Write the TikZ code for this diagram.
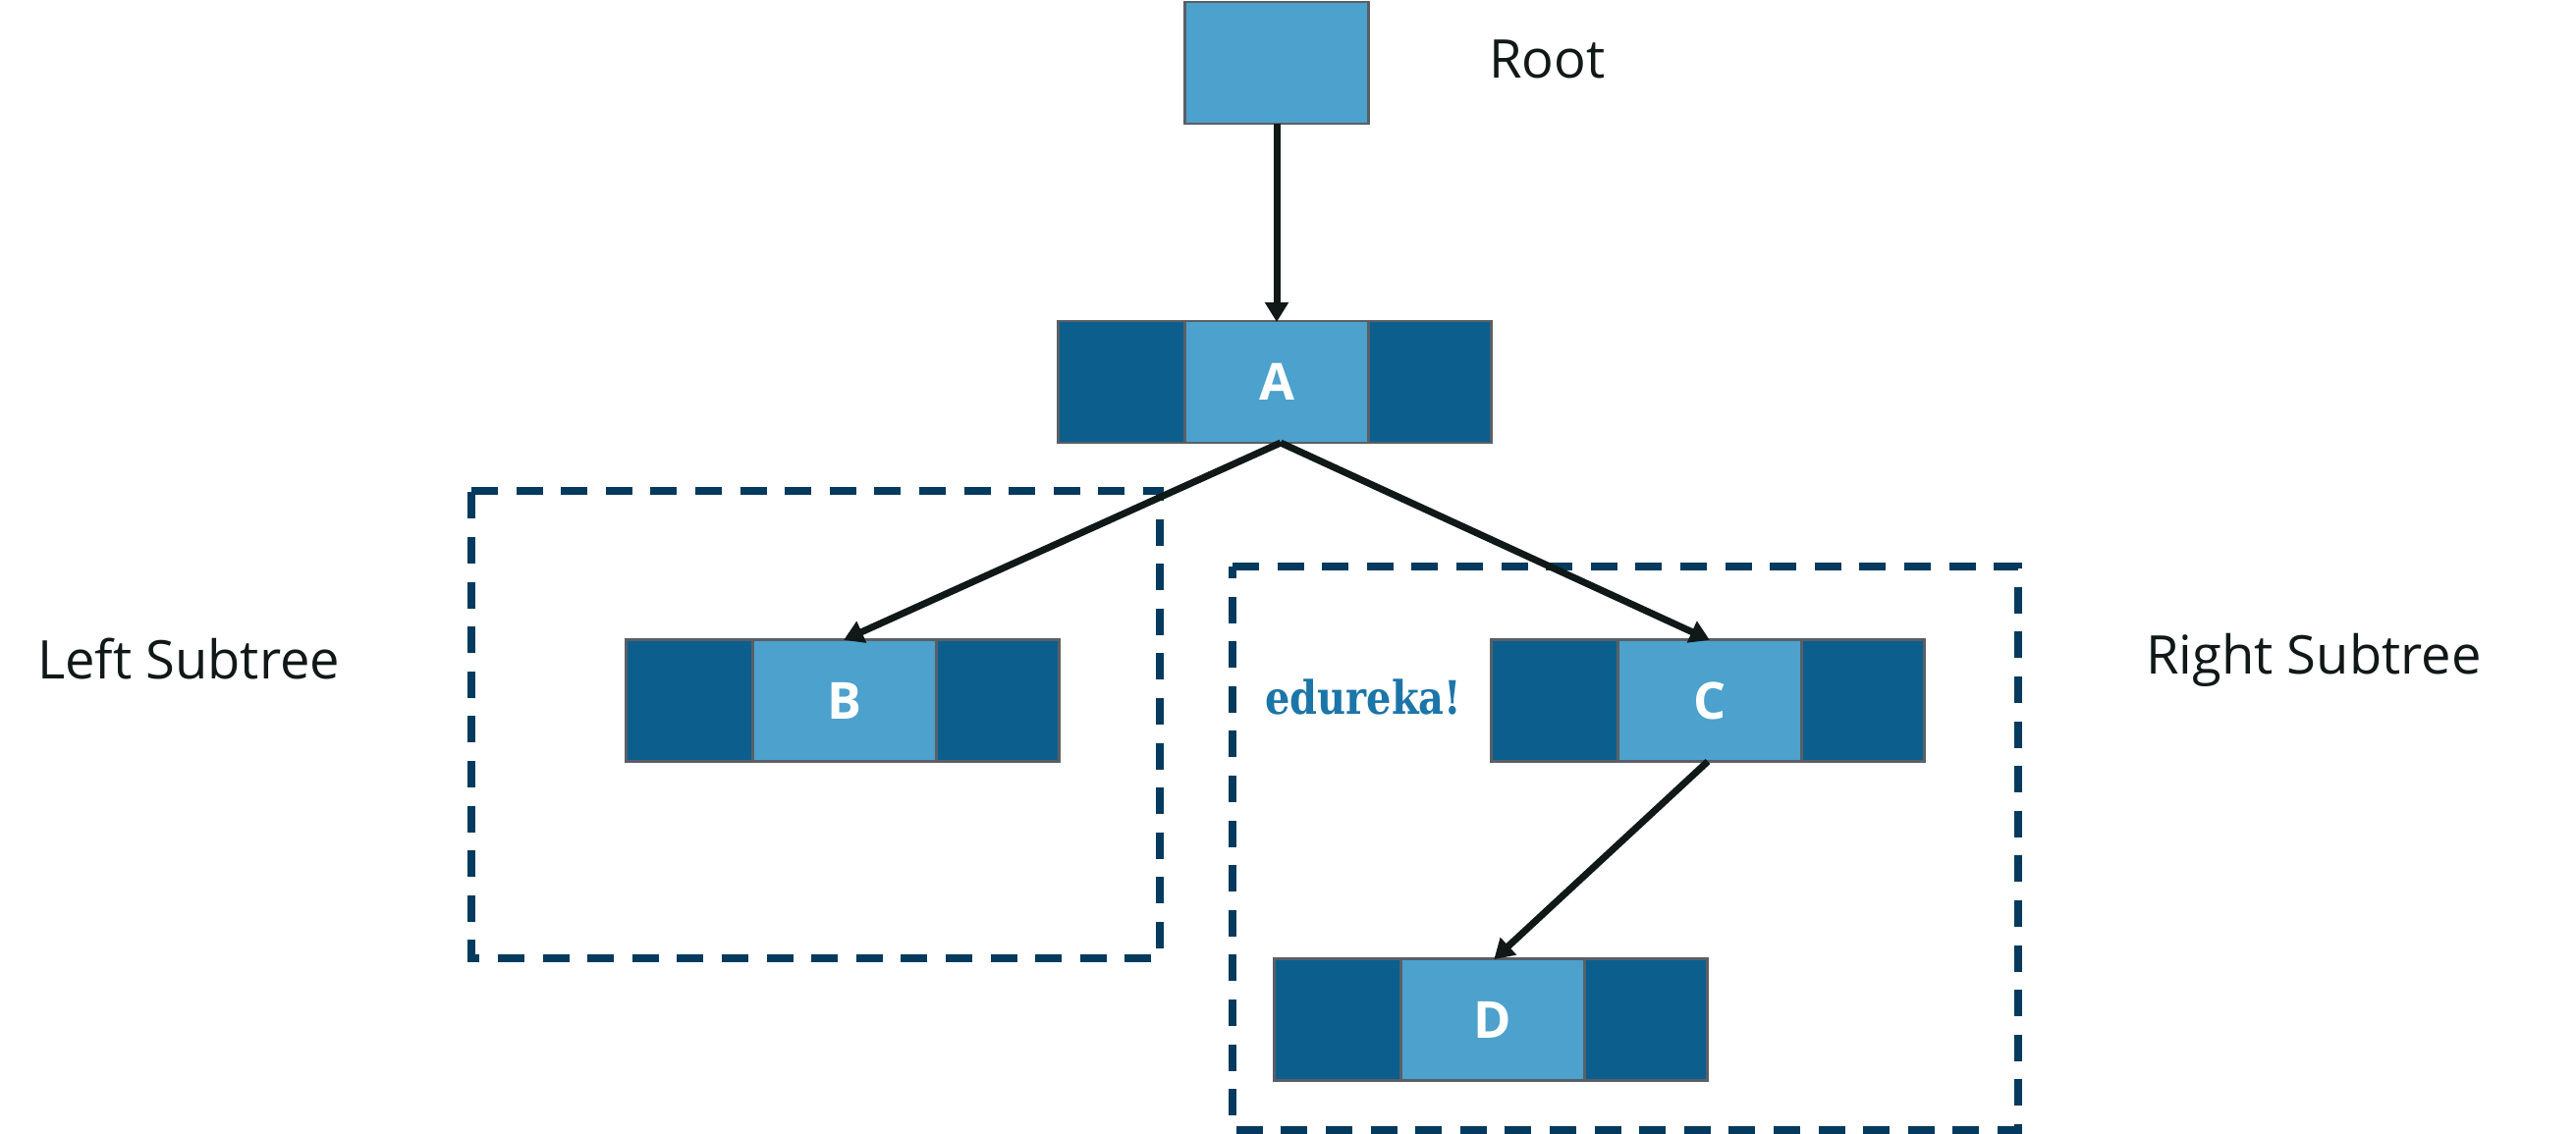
\documentclass[tikz,border=0pt]{standalone}
\usepackage{fontspec}
\setmainfont{Open Sans}
\newfontfamily\brandfont[FakeStretch=0.85]{DejaVu Serif}
\usetikzlibrary{arrows.meta}
\definecolor{lightblue}{HTML}{4CA1CD}
\definecolor{darkblue}{HTML}{0C5F8D}
\definecolor{edgegrey}{HTML}{5A5F66}
\definecolor{dashblue}{HTML}{033A5E}
\definecolor{inkblack}{HTML}{101818}
\definecolor{brandblue}{HTML}{1C75A8}
\tikzset{
  x=1pt,y=-1pt,
  midbox/.style={draw=edgegrey,line width=2.5pt,outer sep=0pt,fill=lightblue,minimum width=187pt,minimum height=124pt,inner sep=0pt,text=white,font=\fontsize{52}{60}\selectfont\bfseries},
  sideleft/.style={draw=edgegrey,line width=2.5pt,outer sep=0pt,fill=darkblue,minimum width=129pt,minimum height=124pt,inner sep=0pt,anchor=east},
  sideright/.style={draw=edgegrey,line width=2.5pt,outer sep=0pt,fill=darkblue,minimum width=125pt,minimum height=124pt,inner sep=0pt,anchor=west},
  edge/.style={draw=inkblack,line width=7pt,-{Triangle[length=20pt,width=23pt]},shorten >=-1pt},
  region/.style={draw=dashblue,line width=7.5pt,dash pattern=on 27pt off 18.6pt},
  caption/.style={font=\fontsize{54.3}{60}\selectfont,text=inkblack,inner sep=0pt}
}
\begin{document}
\begin{tikzpicture}
\useasboundingbox (0,0) rectangle (2623,1155);
% regions
\draw[region] (480,500) -- (1181,500) -- (1181,976) -- (480,976) -- cycle;
\draw[region] (1255,577) -- (2055,577) -- (2055,1151) -- (1255,1151) -- cycle;
% root
\node[midbox] (root) at (1300,64) {};
% A
\node[midbox] (a) at (1300,389) {A};
\node[sideleft] (aL) at (a.west) {};
\node[sideright] (aR) at (a.east) {};
% B
\node[midbox] (b) at (860,713.5) {B};
\node[sideleft] (bL) at (b.west) {};
\node[sideright] (bR) at (b.east) {};
% C
\node[midbox] (c) at (1741,713.5) {C};
\node[sideleft] (cL) at (c.west) {};
\node[sideright] (cR) at (c.east) {};
% D
\node[midbox] (d) at (1520,1038.5) {D};
\node[sideleft] (dL) at (d.west) {};
\node[sideright] (dR) at (d.east) {};
% connectors
\draw[edge] (root.south) -- (a.north);
\draw[edge] ([xshift=4pt]a.south) -- (b.north);
\draw[edge] ([xshift=4pt]a.south) -- ([xshift=-1pt]c.north);
\draw[edge] ([xshift=-2pt]c.south) -- ([xshift=2pt]d.north);
% labels
\node[caption,anchor=base west] (rootlabel) at (1516,80) {Root};
\node[caption,anchor=base west] (leftlabel) at (38,691) {Left Subtree};
\node[caption,anchor=base west] (rightlabel) at (2185,686) {Right Subtree};
\node[anchor=base west,inner sep=0pt,text=brandblue,font=\brandfont\bfseries\fontsize{47}{52}\selectfont] (brand) at (1288,727) {edureka!};
\end{tikzpicture}
\end{document}
